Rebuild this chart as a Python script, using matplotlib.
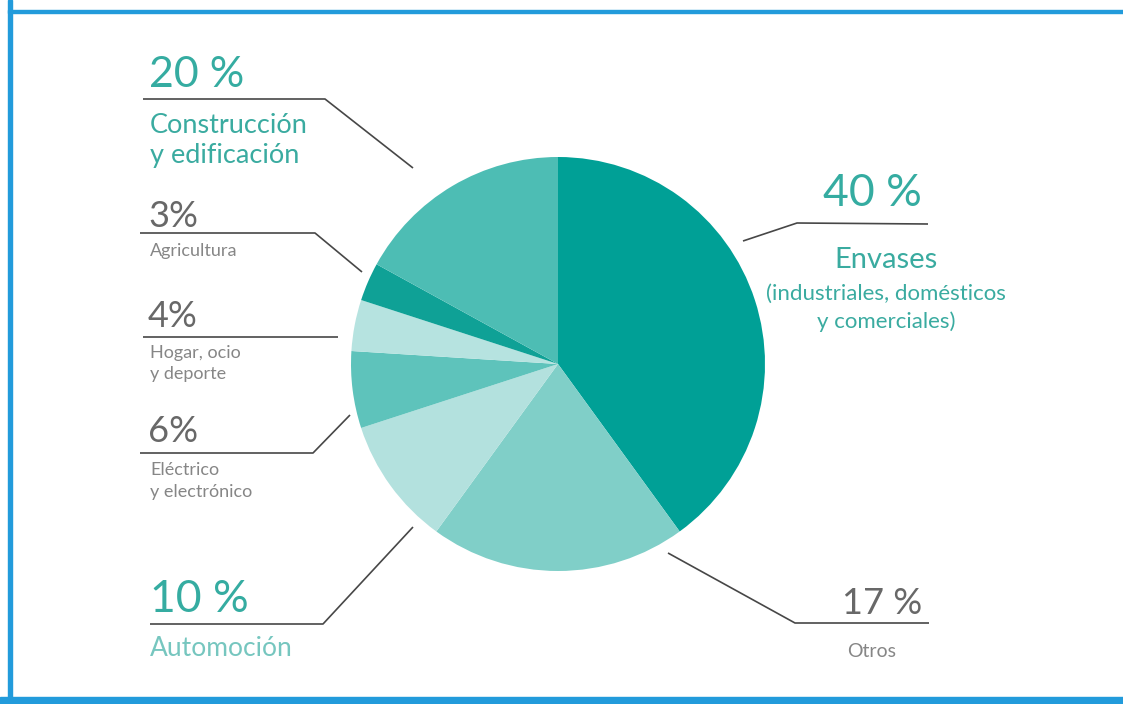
import matplotlib
matplotlib.use("Agg")
import matplotlib.pyplot as plt
from matplotlib.patches import Rectangle

plt.rcParams["font.family"] = ["Lato", "DejaVu Sans"]

# slice order: clockwise from 12 o'clock
sectors = ["Envases", "Otros", "Automoción", "Eléctrico y electrónico",
           "Hogar, ocio y deporte", "Agricultura", "Construcción y edificación"]
shares = [40, 20, 10, 6, 4, 3, 17]          # sizes as drawn in the picture
pct_text = ["40 %", "17 %", "10 %", "6%", "4%", "3%", "20 %"]   # printed labels
colors = ["#00a096", "#80cfc8", "#b3e1de", "#5ec3bb", "#b6e3e0", "#0fa196", "#4dbdb4"]

W, H = 1123, 704
fig = plt.figure(figsize=(W / 100, H / 100), dpi=100)
ax = fig.add_axes([0, 0, 1, 1])


def Y(y):
    return H - y


ax.pie(shares, colors=colors, startangle=90, counterclock=False,
       center=(558, Y(364)), radius=207, frame=True,
       wedgeprops=dict(linewidth=0))
ax.set_xlim(0, W)
ax.set_ylim(0, H)
ax.set_aspect("equal")
ax.axis("off")

# leader lines
lc = "#474747"
leaders = [
    [(143, 99), (325, 99), (413, 168)],
    [(140, 233), (315, 233), (362, 272)],
    [(143, 337), (338, 337)],
    [(140, 453), (313, 453), (350, 415)],
    [(150, 624), (323, 624), (413, 527)],
    [(668, 553), (795, 623), (929, 623)],
    [(743, 241), (797, 223), (928, 224)],
]
for pts in leaders:
    ax.plot([p[0] for p in pts], [Y(p[1]) for p in pts], color=lc, lw=1.2,
            solid_capstyle="butt")

teal = "#35aca1"
teal2 = "#3aaba0"
gray = "#686868"
lgray = "#868686"


def txt(x, y, s, size, color, ha="left"):
    ax.text(x, Y(y), s, fontsize=size, color=color, ha=ha, va="baseline")


# Construcción
txt(149, 87, pct_text[6], 31, teal)
txt(150, 133, "Construcción", 19.5, teal2)
txt(150, 163, "y edificación", 19.5, teal2)
# Agricultura
txt(148, 227, pct_text[5], 26, gray)
txt(150, 256, "Agricultura", 13, lgray)
# Hogar
txt(148, 327, pct_text[4], 26, gray)
txt(150, 358, "Hogar, ocio", 13, lgray)
txt(150, 379, "y deporte", 13, lgray)
# Eléctrico
txt(148, 442, pct_text[3], 26, gray)
txt(150, 475, "Eléctrico", 13, lgray)
txt(150, 497, "y electrónico", 13, lgray)
# Automoción
txt(150, 612, pct_text[2], 32, teal)
txt(150, 656, "Automoción", 19, "#76c6bf")
# Otros
txt(922, 614, pct_text[1], 26, gray, ha="right")
txt(872, 657, "Otros", 14, lgray, ha="center")
# Envases
txt(872, 206, pct_text[0], 32, teal, ha="center")
txt(886, 268, "Envases", 21, teal2, ha="center")
txt(886, 300, "(industriales, domésticos", 16, teal2, ha="center")
txt(886, 328, "y comerciales)", 16, teal2, ha="center")

# blue frame
blue = "#229bdb"
fig.patches.append(Rectangle((8 / W, 0), 4 / W, 1, transform=fig.transFigure,
                             color=blue, zorder=5))
fig.patches.append(Rectangle((8 / W, 1 - 13 / H), 1, 3 / H, transform=fig.transFigure,
                             color=blue, zorder=5))
fig.patches.append(Rectangle((0, 0), 1, 7 / H, transform=fig.transFigure,
                             color=blue, zorder=5))

fig.savefig("out.png", dpi=100)
